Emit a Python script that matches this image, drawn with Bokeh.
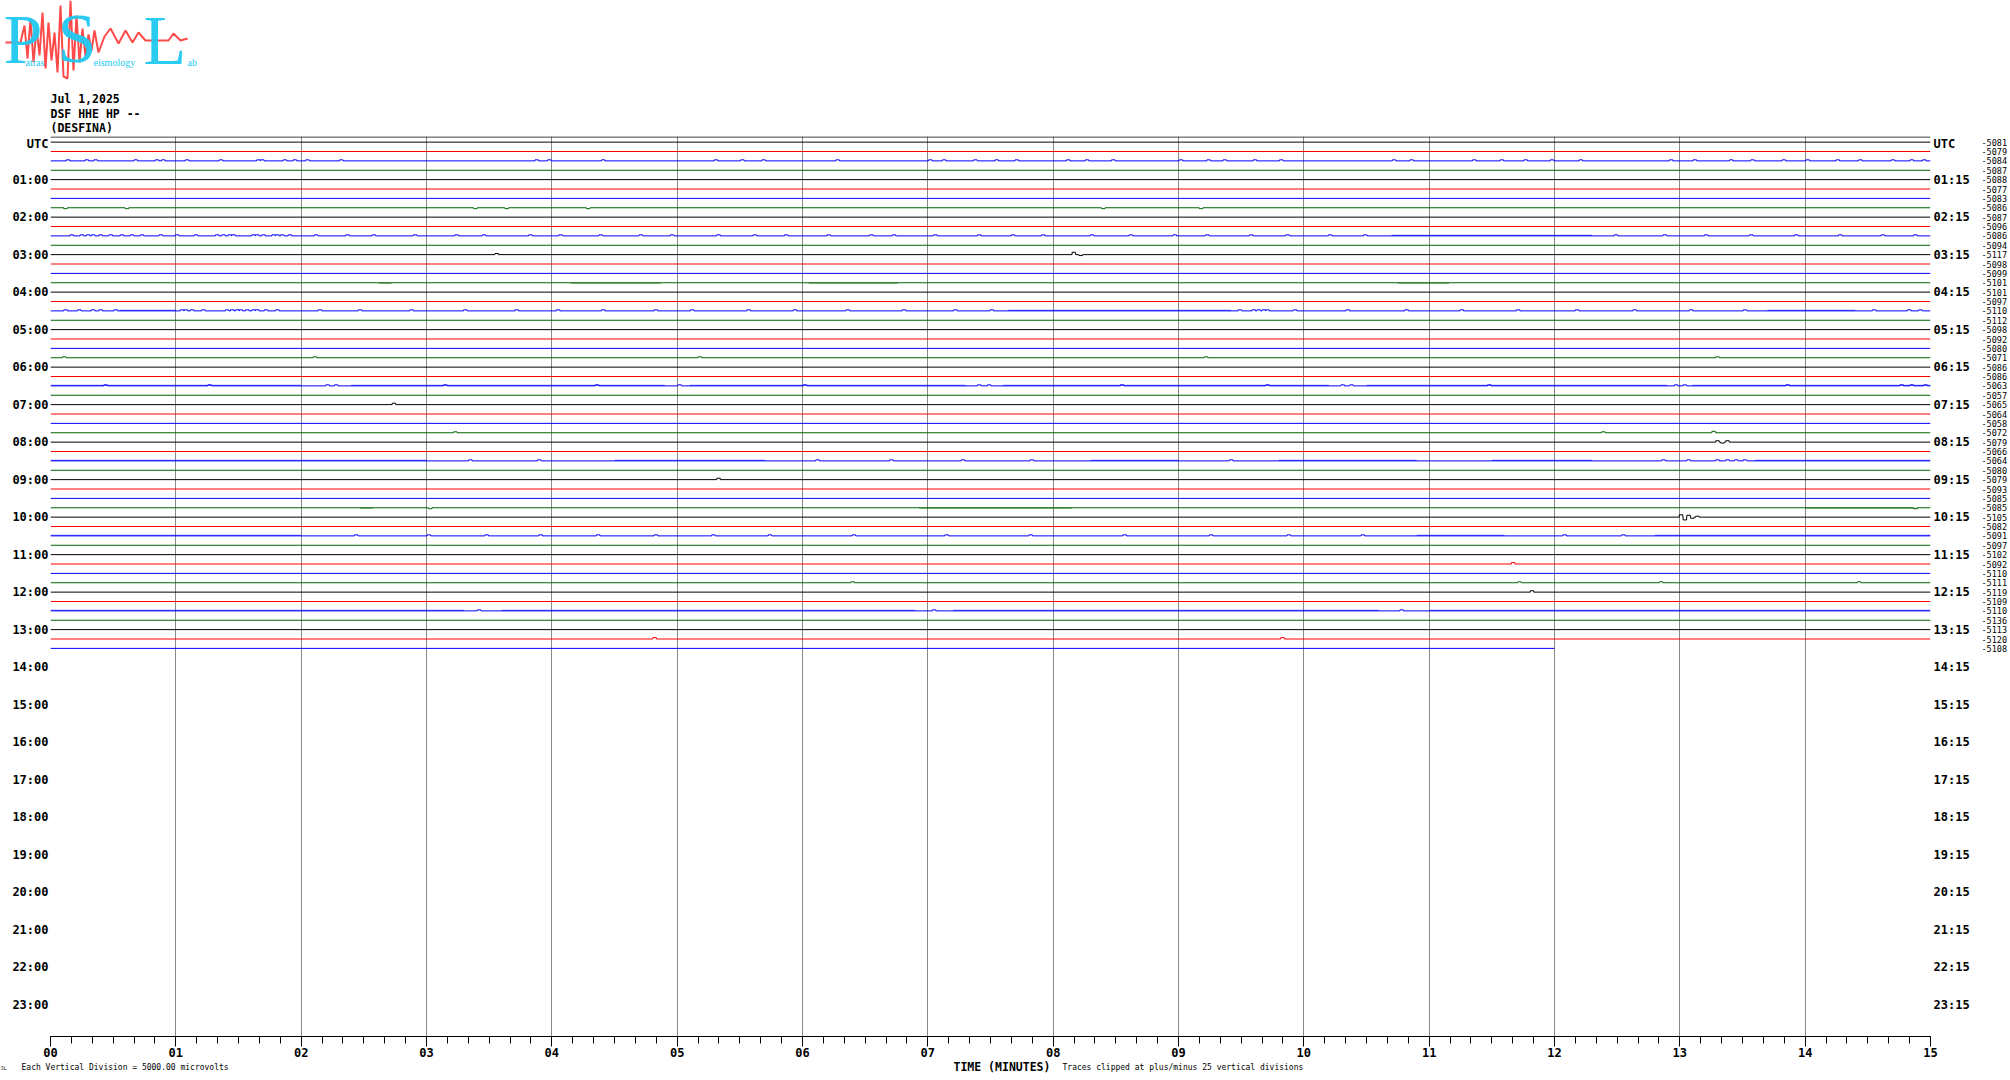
from bokeh.plotting import figure
from bokeh.models import (Range1d, FixedTicker, LinearAxis, Span, ColumnDataSource)
from bokeh.layouts import column
from bokeh.core.properties import value
from bokeh.embed import file_html
from bokeh.resources import INLINE

# ------------------------------------------------------------------ data
minute_ticks = list(range(16))
minute_labels = ["%02d" % m for m in minute_ticks]
minor_minute_ticks = [i / 6.0 for i in range(91)]          # every 10 s
hours = list(range(0, 24))
left_hour_labels = ["UTC"] + ["%02d:00" % h for h in hours[1:]]
right_hour_labels = ["UTC"] + ["%02d:15" % h for h in hours[1:]]
rows_per_hour = 4

header_lines = ["Jul 1,2025", "DSF HHE HP --", "(DESFINA)"]
footer_note_left = "Each Vertical Division = 5000.00 microvolts"
footer_axis_title = "TIME (MINUTES)"
footer_note_right = "Traces clipped at plus/minus 25 vertical divisions"

row_colors_cycle = ["#000000", "#ff0000", "#0000ff", "#006400"]
row_end_minute = [15.0] * 54 + [12.0]                     # record stops 13:42 UTC
row_offsets = [-5081, -5079, -5084, -5087, -5088, -5077, -5083, -5086, -5087, -5096,
               -5086, -5094, -5117, -5098, -5099, -5101, -5101, -5097, -5110, -5112,
               -5098, -5092, -5080, -5071, -5086, -5086, -5063, -5057, -5065, -5064,
               -5058, -5072, -5079, -5066, -5064, -5080, -5079, -5093, -5085, -5085,
               -5105, -5082, -5091, -5097, -5102, -5092, -5110, -5111, -5119, -5109,
               -5110, -5136, -5113, -5120, -5108]

# single deflections: row, minute, amplitude (rows, + = up)
ev_row = [7, 7, 7, 7, 7, 7, 7,
          12, 12, 12,
          23, 23, 23, 23, 23,
          28,
          31, 31, 31,
          32, 32, 32,
          36,
          39, 39,
          40, 40, 40, 40, 40,
          45,
          47, 47, 47, 47,
          48,
          53, 53]
ev_min = [0.12, 0.61, 3.39, 3.64, 4.29, 8.40, 9.18,
          3.56, 8.165, 8.22,
          0.11, 2.11, 5.18, 9.22, 13.30,
          2.74,
          3.23, 12.39, 13.27,
          13.30, 13.34, 13.38,
          5.33,
          3.03, 14.88,
          13.01, 13.04, 13.07, 13.10, 13.14,
          11.67,
          6.40, 11.72, 12.85, 14.43,
          11.82,
          4.82, 9.83]
ev_amp = [-0.1, -0.1, -0.1, -0.1, -0.1, -0.1, -0.1,
          0.12, 0.25, -0.1,
          0.1, 0.1, 0.1, 0.1, 0.1,
          0.15,
          0.1, 0.1, 0.15,
          0.15, -0.1, 0.15,
          0.15,
          -0.1, -0.1,
          0.25, -0.3, 0.2, -0.12, 0.1,
          0.15,
          0.1, 0.1, 0.1, 0.1,
          0.15,
          0.15, 0.15]

# small noise blips on the noisy rows (minutes)
noise_amp = 0.11
noise_bumps = {
    2: [0.14, 0.29, 0.36, 0.68, 0.85, 0.90, 1.09, 1.36, 1.66, 1.69, 1.87, 1.95, 2.05, 2.32,
        3.88, 3.98, 4.41, 5.31, 5.52, 5.69, 6.28, 7.02, 7.13, 7.38, 7.55, 7.71, 8.12, 8.27,
        8.48, 9.02, 9.24, 9.37, 9.61, 9.82, 10.72, 10.86, 11.36, 11.58, 11.77, 11.98, 12.21,
        12.93, 13.12, 13.41, 13.58, 13.83, 14.02, 14.26, 14.44, 14.70, 14.85, 14.95],
    10: [0.17, 0.25, 0.30, 0.34, 0.40, 0.48, 0.57, 0.65, 0.73, 0.88, 1.01, 1.16, 1.33, 1.38,
         1.43, 1.46, 1.62, 1.65, 1.70, 1.78, 1.81, 1.85, 1.91, 2.12, 2.37, 2.58, 2.91, 3.24,
         3.46, 3.83, 4.07, 4.39, 4.71, 4.96, 5.33, 5.62, 5.87, 6.21, 6.55, 6.73, 7.06, 7.41,
         7.68, 7.92, 8.31, 8.62, 8.97, 9.23, 9.58, 9.87, 10.21, 10.49, 12.49, 12.88, 13.21,
         13.57, 13.93, 14.28, 14.62, 14.88],
    18: [0.12, 0.23, 0.34, 0.40, 0.52, 1.05, 1.08, 1.13, 1.22, 1.41, 1.45, 1.49, 1.52, 1.57,
         1.62, 1.65, 1.72, 1.81, 2.15, 2.47, 2.88, 3.31, 3.72, 4.05, 4.41, 4.83, 5.12, 5.57,
         5.94, 6.36, 6.81, 7.22, 7.51, 9.49, 9.60, 9.64, 9.68, 9.71, 9.93, 10.35, 10.82,
         11.26, 11.71, 12.18, 12.64, 13.09, 13.52, 14.55, 14.83, 14.92],
    26: [0.44, 1.27, 2.21, 2.28, 3.15, 4.36, 5.02, 6.02, 7.41, 7.49, 8.55, 9.71, 10.31,
         10.38, 11.48, 12.97, 13.04, 13.86, 14.77, 14.85, 14.96],
    34: [3.35, 3.90, 6.12, 6.71, 7.28, 7.83, 9.42, 12.87, 13.07, 13.30, 13.38, 13.45, 13.52],
    42: [2.44, 3.02, 3.48, 3.91, 4.37, 4.83, 5.29, 5.74, 6.41, 7.15, 7.82, 8.57, 9.26,
         9.88, 10.47, 12.08, 12.55],
    50: [3.42, 7.05, 10.78],
}

# stretches of dense noise: row, start minute, end minute
band_row = [10, 18, 18, 18, 26, 26, 26, 26, 26, 26,
            34, 34, 34, 34, 34, 34, 42, 42, 42, 50, 50, 50, 50,
            15, 15, 15, 15, 39, 39, 39]
band_start = [10.70, 0.55, 7.64, 13.70, 0.0, 2.4, 5.1, 7.6, 10.5, 13.1,
              0.0, 4.5, 8.3, 9.8, 11.5, 13.6, 0.0, 10.9, 12.8, 0.0, 3.6, 7.2, 11.0,
              2.62, 4.15, 6.05, 10.75, 2.47, 6.93, 14.0]
band_end = [12.30, 1.00, 9.42, 14.40, 2.0, 4.9, 7.3, 10.2, 12.9, 15.0,
            3.0, 5.7, 9.0, 10.9, 12.3, 15.0, 2.0, 11.6, 15.0, 3.3, 6.9, 10.6, 15.0,
            2.72, 4.87, 6.76, 11.16, 2.57, 8.15, 14.9]

# logo seismogram (logo pixel space)
logo_x = [5, 20, 24, 27, 30, 33, 36, 39, 42, 45, 48, 51, 54, 57, 60, 63, 67, 70, 73, 76,
          79, 82, 85, 88, 91, 94, 98, 104, 110, 118, 125, 132, 138, 145, 152, 160, 168,
          173, 180, 187]
logo_y = [42, 42, 25, 58, 18, 62, 28, 55, 12, 68, 22, 60, 32, 72, 5, 76, 78, 0, 70, 15,
          62, 28, 56, 34, 50, 30, 52, 36, 28, 43, 30, 42, 32, 40, 40, 40, 40, 33, 40, 38]

MONO = "DejaVu Sans Mono"
W = 2010
HEAD_H = 136
FOOT_H = 20
MAIN_H = 1080 - HEAD_H - FOOT_H


def plain_fig(w, h, y0, y1):
    f = figure(width=w, height=h, x_range=Range1d(0, w), y_range=Range1d(y1, y0),
               output_backend="svg", toolbar_location=None, min_border=0,
               x_axis_location=None, y_axis_location=None)
    f.grid.visible = False
    f.outline_line_color = None
    if "frame_align" in f.properties():
        f.frame_align = False
    return f


# ------------------------------------------------------------------ header (logo + titles)
head = plain_fig(W, HEAD_H, 0, HEAD_H)
head.line(logo_x, logo_y, line_color="#ff4a4a", line_width=2)
cyan = "#1ec8f0"
head.text(x=[3, 57, 143], y=[39, 38, 40], text=["P", "S", "L"], text_color=cyan,
          text_font=value("Liberation Serif"), text_font_size="70px",
          text_baseline="middle", text_alpha=0.95)
head.text(x=[25, 93, 187], y=[62, 62, 62], text=["atras", "eismology", "ab"],
          text_color=cyan, text_font=value("Liberation Serif"), text_font_size="10px",
          text_baseline="alphabetic")
head.text(x=[50, 50, 50], y=[98, 113, 127.5], text=header_lines, text_color="black",
          text_font=value(MONO), text_font_size="11.5px", text_font_style="bold",
          text_baseline="middle")

# ------------------------------------------------------------------ footer
foot = plain_fig(W, FOOT_H, 1080 - FOOT_H, 1080)
foot.text(x=[21, 1062], y=[1066.5, 1066.5], text=[footer_note_left, footer_note_right],
          text_color="black", text_font=value(MONO), text_font_size="8px",
          text_baseline="middle")
foot.text(x=[953], y=[1066.5], text=[footer_axis_title], text_color="black",
          text_font=value(MONO), text_font_size="11.5px", text_font_style="bold",
          text_baseline="middle")
foot.text(x=[0], y=[1067], text=["JL"], text_color="black", text_font=value(MONO),
          text_font_size="5px", text_baseline="middle")

# ------------------------------------------------------------------ main helicorder
Y_TOP = -0.6
Y_BOT = Y_TOP + 96.0
p = figure(width=W, height=MAIN_H, x_range=Range1d(0, 15), y_range=Range1d(Y_BOT, Y_TOP),
           output_backend="svg", toolbar_location=None,
           min_border_left=50, min_border_right=80, min_border_top=0,
           min_border_bottom=MAIN_H - 900)
p.outline_line_color = None
p.background_fill_color = "white"
p.border_fill_color = "white"

xa = p.xaxis[0]
xa.ticker = FixedTicker(ticks=minute_ticks, minor_ticks=minor_minute_ticks)
xa.major_label_overrides = {m: lab for m, lab in zip(minute_ticks, minute_labels)}
xa.axis_line_color = "black"
xa.major_tick_in = 0
xa.major_tick_out = 10
xa.minor_tick_in = 0
xa.minor_tick_out = 7
xa.major_tick_line_color = "black"
xa.minor_tick_line_color = "black"
xa.major_label_standoff = 1
xa.major_label_text_font = MONO
xa.major_label_text_font_style = "bold"
xa.major_label_text_font_size = "12px"
xa.major_label_text_color = "black"

p.xgrid.ticker = FixedTicker(ticks=minute_ticks)
p.xgrid.grid_line_color = "#888888"
p.ygrid.visible = False

hour_rows = [h * rows_per_hour for h in hours]


def style_hour_axis(ax, standoff):
    ax.axis_line_color = None
    ax.major_tick_line_color = None
    ax.major_tick_out = 0
    ax.major_tick_in = 0
    ax.major_label_standoff = standoff
    ax.major_label_text_font = MONO
    ax.major_label_text_font_style = "bold"
    ax.major_label_text_font_size = "12px"
    ax.major_label_text_color = "black"


ya = p.yaxis[0]
ya.ticker = FixedTicker(ticks=hour_rows)
ya.major_label_overrides = {r: lab for r, lab in zip(hour_rows, left_hour_labels)}
style_hour_axis(ya, 2)

ra = LinearAxis(ticker=FixedTicker(ticks=hour_rows),
                major_label_overrides={r: lab for r, lab in zip(hour_rows, right_hour_labels)})
style_hour_axis(ra, 3)
p.add_layout(ra, "right")

n_rows = len(row_offsets)
row_ids = list(range(n_rows))
va = LinearAxis(ticker=FixedTicker(ticks=row_ids),
                major_label_overrides={r: str(v) for r, v in zip(row_ids, row_offsets)})
va.axis_line_color = None
va.major_tick_line_color = None
va.major_tick_out = 0
va.major_tick_in = 0
va.major_label_standoff = 9
va.major_label_text_font = MONO
va.major_label_text_font_size = "8.5px"
va.major_label_text_color = "black"
p.add_layout(va, "right")

# top frame line
p.add_layout(Span(location=Y_TOP + 0.05, dimension="width", line_color="black", line_width=1))

# dense noise bands
bq = dict(left=[], right=[], top=[], bottom=[], color=[])
for r, s, e in zip(band_row, band_start, band_end):
    bq["left"].append(s)
    bq["right"].append(e)
    if r % 4 == 3:
        bq["top"].append(r)
        bq["bottom"].append(r + noise_amp)
    else:
        bq["top"].append(r - noise_amp)
        bq["bottom"].append(r)
    bq["color"].append(row_colors_cycle[r % 4])
p.quad(left="left", right="right", top="top", bottom="bottom", source=ColumnDataSource(bq),
       fill_color="color", fill_alpha=0.55, line_color=None)

# traces
HW = 0.014
all_bumps = list(zip(ev_row, ev_min, ev_amp))
for r, mins in noise_bumps.items():
    all_bumps += [(r, m, noise_amp) for m in mins]

xs_all, ys_all, col_all = [], [], []
for r in range(n_rows):
    evs = sorted((m, a) for (rr, m, a) in all_bumps if rr == r)
    xs, ys = [0.0], [r]
    for m, a in evs:
        xs += [m - HW, m - HW, m + HW, m + HW]
        ys += [r, r - a, r - a, r]
    xs.append(row_end_minute[r])
    ys.append(r)
    xs_all.append(xs)
    ys_all.append(ys)
    col_all.append(row_colors_cycle[r % 4])
p.multi_line(xs="xs", ys="ys", line_color="color", line_width=1,
             source=ColumnDataSource(dict(xs=xs_all, ys=ys_all, color=col_all)))

layout = column(head, p, foot, spacing=0)
open("out.html", "w").write(file_html(layout, INLINE))
